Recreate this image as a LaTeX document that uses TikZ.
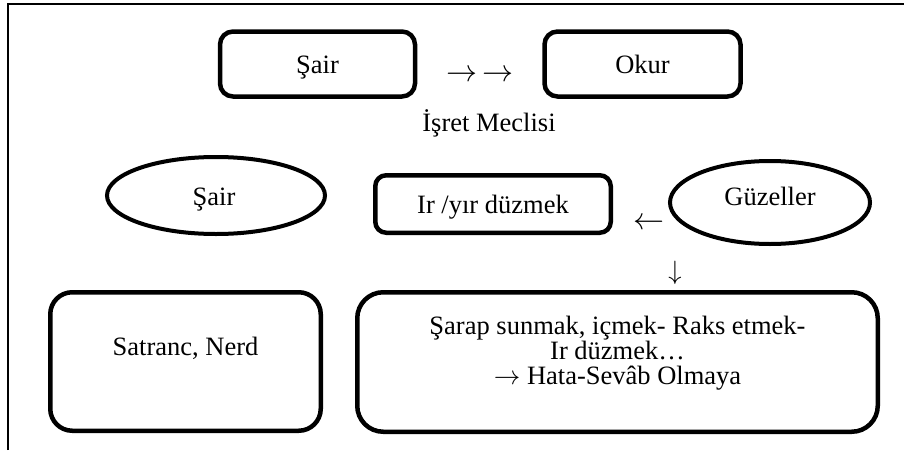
\documentclass[tikz,border=0pt]{standalone}
\usepackage{fix-cm}
\usepackage{fontspec}
\setmainfont{Liberation Serif}
\DeclareMathSizes{26.5}{26.5}{18}{13}
\DeclareMathSizes{31}{31}{21}{15}
\usetikzlibrary{shapes.geometric}
\begin{document}
\begin{tikzpicture}[x=1pt,y=-1pt,
  txt/.style={font=\fontsize{26.5}{25}\selectfont, inner sep=0pt},
  arr/.style={font=\fontsize{31}{31}\selectfont, inner sep=0pt},
  rbox/.style={draw, line width=4.5pt, rounded corners=#1, inner sep=0pt},
  oval/.style={draw, ellipse, line width=4pt, inner sep=0pt},
  frameline/.style={line width=2pt}]
\useasboundingbox (0,0) rectangle (904,450);

% open frame: left and top edges
\coordinate (fbot) at (7.5,450);
\coordinate (fcorner) at (7.5,3.5);
\coordinate (fright) at (904,3.5);
\draw[frameline] (fbot) -- (fcorner) -- (fright);

% top row
\node[rbox=13pt, minimum width=195pt, minimum height=65pt] (sairtop) at (317.5,64) {};
\node[rbox=13pt, minimum width=196pt, minimum height=65pt] (okur) at (642.5,64) {};
\node[txt, anchor=base] (sairtoptxt) at (317.5,73) {Şair};
\node[txt, anchor=base] (okurtxt) at (642.5,73) {Okur};
\node[arr, anchor=base] (arrows) at (480,81.75) {$\rightarrow$\hspace{5pt}$\rightarrow$};
\node[txt, anchor=base] (isret) at (489,131) {İşret Meclisi};

% middle row
\node[oval, minimum width=218pt, minimum height=77pt] (sairoval) at (216,195.5) {};
\node[txt, anchor=base] (sairovaltxt) at (214,205) {Şair};
\node[rbox=11pt, minimum width=235.5pt, minimum height=57.5pt] (ir) at (493,204) {};
\node[txt, anchor=base] (irtxt) at (493,213) {Ir /yır düzmek};
\node[arr, anchor=base] (leftarrow) at (649,229.75) {$\leftarrow$};
\node[oval, minimum width=200pt, minimum height=83pt] (guzel) at (770,202.5) {};
\node[txt, anchor=base] (guzeltxt) at (770,205) {Güzeller};
\node[txt, anchor=center] (downarrow) at (675,272.5) {$\downarrow$};

% bottom row
\node[rbox=22pt, minimum width=270.5pt, minimum height=138.5pt] (satranc) at (185.5,361.5) {};
\node[txt, anchor=base] (satranctxt) at (185.5,355) {Satranc, Nerd};
\node[rbox=26pt, minimum width=520.5pt, minimum height=139.5pt] (sarap) at (617.5,362) {};
\node[txt, align=center, anchor=center] (saraptxt) at (617.5,353)
  {Şarap sunmak, içmek- Raks etmek-\\Ir düzmek…\\$\rightarrow$ Hata-Sevâb Olmaya};
\end{tikzpicture}
\end{document}
